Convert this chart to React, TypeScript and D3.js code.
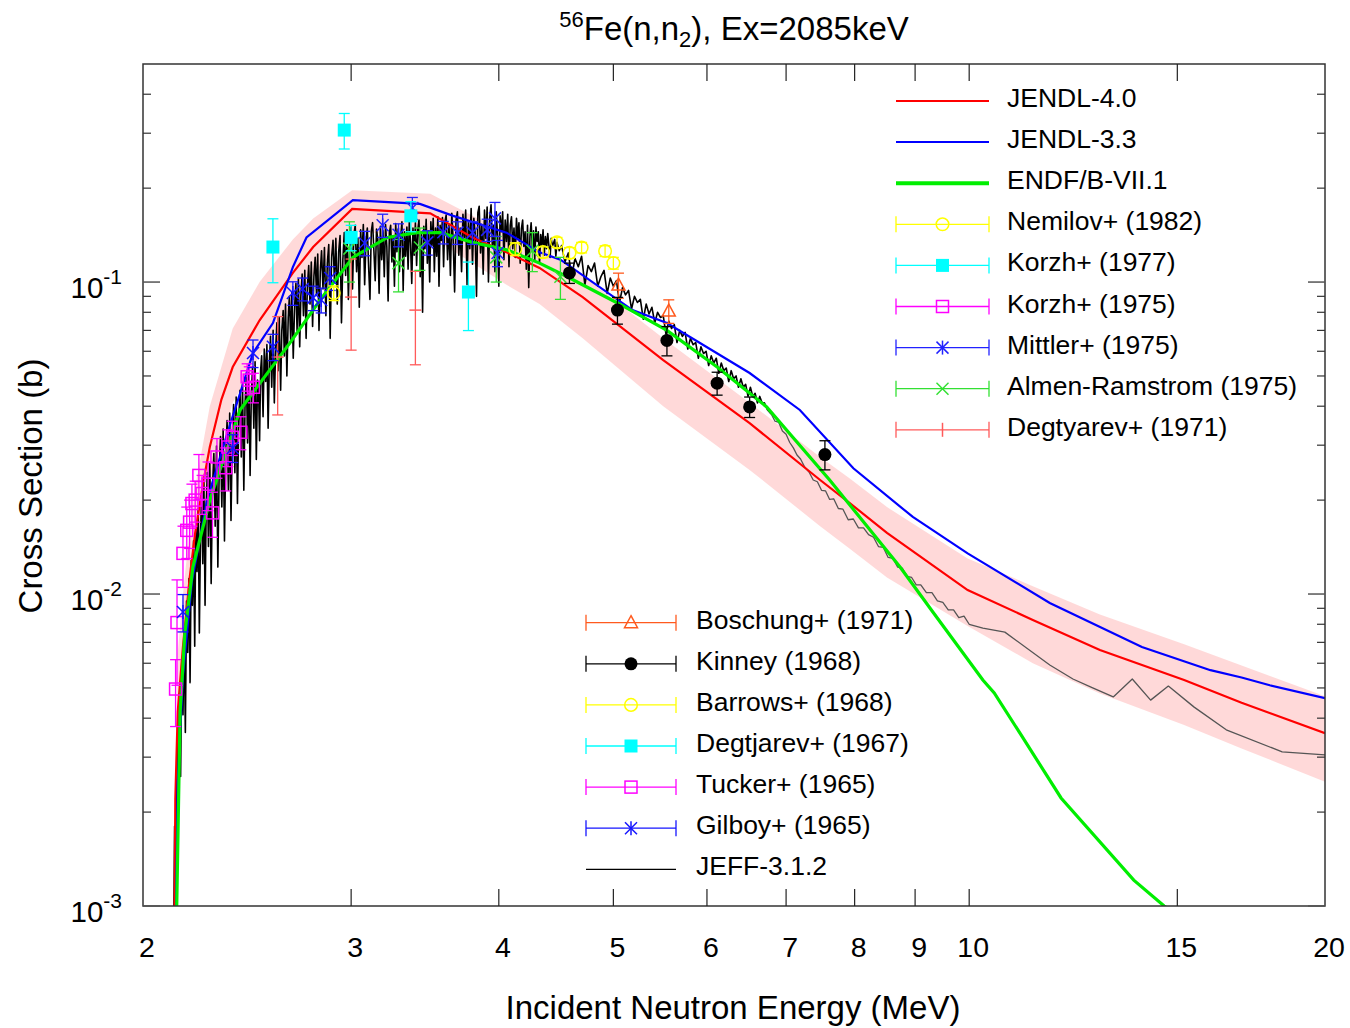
import React from "react";
import * as d3 from "d3";

// ================= DATA =================
const xTickVals = [3, 4, 5, 6, 7, 8, 9, 10, 15];
const xTickLabels = [2, 3, 4, 5, 6, 7, 8, 9, 10, 15, 20];
const yDecades = [-3, -2, -1];

// JENDL-4.0
const jendl40: [number, number][] = [
  [2.123, 0.0003], [2.13, 0.0022], [2.14, 0.0042], [2.162, 0.0068], [2.19, 0.0112], [2.214, 0.0157],
  [2.25, 0.023], [2.278, 0.0296], [2.33, 0.042], [2.382, 0.0534], [2.51, 0.0754], [2.678, 0.107],
  [2.786, 0.1295], [3.006, 0.1715], [3.5, 0.166], [3.8, 0.139], [4.06, 0.1247], [4.33, 0.111],
  [4.71, 0.0895], [5.51, 0.0562], [6.52, 0.0353], [7.48, 0.0232], [7.92, 0.0196], [8.52, 0.0157],
  [9.97, 0.0103], [11.32, 0.00826], [12.9, 0.00662], [15.2, 0.0053], [17.0, 0.00448], [20, 0.00358],
];
// JENDL-4.0 uncertainty band [E, low, high]
const jendl40Band: [number, number, number][] = [
  [2.123, 0.0002, 0.0006], [2.14, 0.003, 0.0065], [2.162, 0.005, 0.01], [2.19, 0.0082, 0.016],
  [2.214, 0.0115, 0.022], [2.278, 0.0225, 0.04], [2.382, 0.041, 0.071], [2.51, 0.058, 0.1],
  [2.678, 0.085, 0.137], [2.786, 0.105, 0.16], [3.006, 0.145, 0.197], [3.5, 0.14, 0.192],
  [3.8, 0.115, 0.163], [4.06, 0.098, 0.145], [4.33, 0.085, 0.13], [4.71, 0.066, 0.105],
  [5.51, 0.04, 0.066], [6.52, 0.025, 0.041], [7.48, 0.0165, 0.0275], [7.92, 0.014, 0.0235],
  [8.52, 0.0113, 0.019], [9.97, 0.0079, 0.013], [11.32, 0.006, 0.0106], [12.9, 0.0048, 0.0086],
  [15.2, 0.0038, 0.0069], [17.0, 0.0032, 0.0059], [20, 0.0025, 0.0047],
];
// JENDL-3.3
const jendl33: [number, number][] = [
  [2.124, 0.0003], [2.14, 0.0025], [2.162, 0.0055], [2.2, 0.011], [2.266, 0.02], [2.37, 0.035],
  [2.478, 0.0592], [2.576, 0.0739], [2.678, 0.1117], [2.75, 0.139], [3.01, 0.183], [3.43, 0.178],
  [3.66, 0.163], [4.06, 0.144], [4.33, 0.1246], [4.51, 0.118], [5.19, 0.0813], [5.55, 0.0739],
  [6.52, 0.0511], [7.19, 0.0389], [7.98, 0.0253], [8.96, 0.01766], [9.97, 0.0135], [11.7, 0.00936],
  [14.0, 0.00676], [16.0, 0.0057], [17.0, 0.0054], [17.96, 0.0051], [20, 0.00464],
];
// ENDF/B-VII.1
const endfb71: [number, number][] = [
  [2.124, 0.0003], [2.15, 0.0042], [2.17, 0.0075], [2.204, 0.0122], [2.278, 0.02], [2.416, 0.0389],
  [2.662, 0.0637], [2.824, 0.0876], [3.01, 0.12], [3.22, 0.139], [3.41, 0.144], [3.57, 0.144],
  [3.8, 0.134], [4.06, 0.127], [4.33, 0.115], [4.57, 0.104], [5.04, 0.0857], [5.55, 0.07],
  [6.12, 0.0534], [6.74, 0.0398], [7.62, 0.0232], [8.74, 0.0122], [9.33, 0.00869], [10.27, 0.0053],
  [10.5, 0.00482], [11.04, 0.00358], [11.96, 0.00222], [13.78, 0.00121], [14.62, 0.001], [15.2, 0.0009],
];
// JEFF-3.1.2 (fluctuating)
const jeff312: [number, number][] = [
  [2.122, 0.0006], [2.127, 0.0018], [2.132, 0.0011], [2.137, 0.0034], [2.142, 0.0022], [2.147, 0.0048],
  [2.152, 0.0026], [2.157, 0.0062], [2.162, 0.0041], [2.167, 0.0078], [2.172, 0.0036], [2.177, 0.0095],
  [2.182, 0.0065], [2.187, 0.0112], [2.192, 0.0052], [2.197, 0.0128], [2.202, 0.0092], [2.207, 0.0148],
  [2.212, 0.0068], [2.217, 0.017], [2.222, 0.0118], [2.227, 0.0188], [2.232, 0.0075], [2.237, 0.0155],
  [2.242, 0.021], [2.247, 0.0125], [2.252, 0.0228], [2.257, 0.0092], [2.262, 0.019], [2.267, 0.0245],
  [2.272, 0.0142], [2.278, 0.0262], [2.284, 0.0108], [2.29, 0.022], [2.296, 0.0282], [2.302, 0.0165],
  [2.308, 0.0298], [2.314, 0.0122], [2.32, 0.025], [2.326, 0.032], [2.332, 0.019], [2.338, 0.0338],
  [2.344, 0.0148], [2.35, 0.0285], [2.356, 0.036], [2.362, 0.0215], [2.368, 0.038], [2.374, 0.0172],
  [2.38, 0.032], [2.386, 0.0405], [2.392, 0.0245], [2.398, 0.0428], [2.404, 0.0195], [2.41, 0.036],
  [2.416, 0.045], [2.422, 0.0275], [2.428, 0.0472], [2.434, 0.0215], [2.44, 0.041], [2.446, 0.0495],
  [2.452, 0.0305], [2.458, 0.0512], [2.464, 0.024], [2.47, 0.044], [2.476, 0.0535], [2.482, 0.034],
  [2.488, 0.0555], [2.494, 0.027], [2.5, 0.0485],
  [2.505, 0.045], [2.51, 0.031], [2.515, 0.052], [2.52, 0.058], [2.527, 0.037], [2.533, 0.061],
  [2.54, 0.048], [2.546, 0.063], [2.552, 0.034], [2.558, 0.055], [2.564, 0.067], [2.57, 0.046],
  [2.577, 0.07], [2.583, 0.041], [2.59, 0.062], [2.596, 0.074], [2.602, 0.052], [2.608, 0.077],
  [2.615, 0.045], [2.621, 0.07], [2.628, 0.081], [2.634, 0.058], [2.64, 0.085], [2.647, 0.05],
  [2.654, 0.077], [2.66, 0.09], [2.667, 0.064], [2.673, 0.093], [2.68, 0.057], [2.687, 0.083],
  [2.694, 0.099], [2.7, 0.07], [2.707, 0.102], [2.714, 0.062], [2.72, 0.09], [2.727, 0.106],
  [2.734, 0.078], [2.741, 0.109], [2.748, 0.066], [2.755, 0.097], [2.762, 0.113], [2.769, 0.085],
  [2.776, 0.116], [2.783, 0.072], [2.79, 0.104], [2.797, 0.12], [2.804, 0.092], [2.811, 0.123],
  [2.818, 0.07], [2.825, 0.108], [2.832, 0.126], [2.84, 0.095], [2.848, 0.129], [2.856, 0.078],
  [2.864, 0.115], [2.872, 0.132], [2.88, 0.066], [2.888, 0.12], [2.896, 0.136], [2.904, 0.1],
  [2.912, 0.138], [2.92, 0.085], [2.928, 0.125], [2.936, 0.141], [2.944, 0.074], [2.952, 0.118],
  [2.96, 0.144], [2.968, 0.105], [2.976, 0.147], [2.984, 0.088], [2.992, 0.13], [3.0, 0.15],
  [3.008, 0.095], [3.016, 0.142], [3.024, 0.152], [3.032, 0.108], [3.04, 0.138], [3.048, 0.083],
  [3.056, 0.147], [3.064, 0.12], [3.072, 0.153], [3.08, 0.098], [3.088, 0.135], [3.096, 0.149],
  [3.104, 0.112], [3.112, 0.088], [3.12, 0.145], [3.128, 0.155], [3.136, 0.126], [3.144, 0.101],
  [3.152, 0.148], [3.16, 0.137], [3.168, 0.092], [3.176, 0.151], [3.184, 0.118], [3.192, 0.146],
  [3.2, 0.104], [3.208, 0.153], [3.216, 0.13], [3.224, 0.087], [3.232, 0.144], [3.24, 0.152],
  [3.248, 0.116], [3.256, 0.141], [3.264, 0.097], [3.272, 0.154], [3.28, 0.125], [3.288, 0.148],
  [3.296, 0.108], [3.304, 0.139], [3.312, 0.156], [3.32, 0.094], [3.328, 0.145], [3.336, 0.121],
  [3.344, 0.15], [3.352, 0.11], [3.36, 0.157], [3.368, 0.133], [3.376, 0.099], [3.384, 0.149],
  [3.392, 0.122], [3.4, 0.155], [3.408, 0.113], [3.416, 0.147], [3.424, 0.158], [3.432, 0.104],
  [3.44, 0.142], [3.448, 0.08], [3.456, 0.151], [3.464, 0.128], [3.472, 0.159], [3.48, 0.115],
  [3.488, 0.146], [3.496, 0.1], [3.504, 0.156], [3.512, 0.131], [3.52, 0.16], [3.528, 0.108],
  [3.536, 0.149], [3.544, 0.121], [3.552, 0.162], [3.56, 0.097], [3.568, 0.152], [3.576, 0.136],
  [3.584, 0.161], [3.592, 0.112], [3.6, 0.155],
  [3.61, 0.164], [3.62, 0.118], [3.63, 0.152], [3.64, 0.105], [3.65, 0.166], [3.66, 0.135],
  [3.67, 0.093], [3.68, 0.158], [3.69, 0.168], [3.7, 0.122], [3.71, 0.149], [3.72, 0.108],
  [3.73, 0.165], [3.74, 0.139], [3.75, 0.17], [3.76, 0.098], [3.77, 0.155], [3.78, 0.128],
  [3.79, 0.172], [3.8, 0.114], [3.81, 0.16], [3.82, 0.143], [3.83, 0.09], [3.84, 0.167],
  [3.85, 0.175], [3.86, 0.124], [3.87, 0.153], [3.88, 0.106], [3.89, 0.17], [3.9, 0.138],
  [3.91, 0.174], [3.92, 0.1], [3.93, 0.161], [3.94, 0.177], [3.95, 0.13], [3.96, 0.152],
  [3.97, 0.108], [3.98, 0.168], [3.99, 0.142], [4.0, 0.097], [4.01, 0.163], [4.02, 0.145],
  [4.03, 0.168], [4.04, 0.118], [4.05, 0.158], [4.06, 0.135], [4.07, 0.165], [4.08, 0.112],
  [4.09, 0.152], [4.1, 0.162], [4.11, 0.128], [4.12, 0.149], [4.13, 0.12], [4.14, 0.16],
  [4.15, 0.138], [4.16, 0.155], [4.17, 0.115], [4.18, 0.148], [4.19, 0.158], [4.2, 0.13],
  [4.21, 0.145], [4.22, 0.11], [4.23, 0.152], [4.24, 0.096], [4.25, 0.14], [4.26, 0.155],
  [4.27, 0.128], [4.28, 0.146], [4.29, 0.118], [4.3, 0.15], [4.31, 0.135], [4.32, 0.145],
  [4.33, 0.115], [4.34, 0.142], [4.35, 0.13], [4.36, 0.147], [4.37, 0.122], [4.38, 0.14],
  [4.39, 0.128], [4.4, 0.143], [4.42, 0.12], [4.43, 0.138], [4.44, 0.13], [4.46, 0.137],
  [4.47, 0.121], [4.48, 0.134], [4.5, 0.126],
  [4.52, 0.131], [4.55, 0.116], [4.58, 0.124], [4.61, 0.104], [4.64, 0.119], [4.67, 0.112],
  [4.7, 0.121], [4.73, 0.098], [4.76, 0.113], [4.79, 0.108], [4.82, 0.115], [4.85, 0.097],
  [4.88, 0.104], [4.91, 0.109], [4.94, 0.092], [4.97, 0.103], [5.0, 0.097], [5.03, 0.101],
  [5.06, 0.086], [5.09, 0.096], [5.12, 0.091], [5.15, 0.094], [5.18, 0.082], [5.21, 0.09],
  [5.24, 0.086], [5.27, 0.088], [5.3, 0.076], [5.33, 0.085], [5.36, 0.079], [5.39, 0.083],
  [5.42, 0.074], [5.45, 0.08], [5.48, 0.077], [5.51, 0.078], [5.54, 0.068], [5.57, 0.075],
  [5.6, 0.071], [5.63, 0.073], [5.66, 0.064], [5.69, 0.07], [5.72, 0.067], [5.75, 0.069],
  [5.78, 0.061], [5.81, 0.066], [5.84, 0.063], [5.87, 0.064], [5.9, 0.057], [5.93, 0.062],
  [5.96, 0.059], [5.99, 0.06], [6.02, 0.054], [6.05, 0.058], [6.08, 0.055], [6.11, 0.057],
  [6.14, 0.051], [6.17, 0.055], [6.2, 0.052], [6.23, 0.053], [6.26, 0.048], [6.29, 0.052],
  [6.32, 0.049], [6.35, 0.05], [6.38, 0.046], [6.41, 0.049], [6.44, 0.046], [6.47, 0.047],
  [6.5, 0.043], [6.53, 0.046], [6.56, 0.043], [6.59, 0.044], [6.62, 0.041], [6.65, 0.043],
  [6.68, 0.041], [6.71, 0.041], [6.75, 0.039],
  [6.8, 0.0378], [6.85, 0.0358], [6.9, 0.0355], [6.95, 0.0333], [7.0, 0.0325], [7.05, 0.0306],
  [7.1, 0.0294], [7.15, 0.0279], [7.2, 0.0271], [7.26, 0.0255], [7.32, 0.0246], [7.38, 0.0232],
  [7.44, 0.0229], [7.5, 0.0215], [7.56, 0.0214], [7.62, 0.0201], [7.68, 0.0202], [7.75, 0.0188],
  [7.82, 0.0187], [7.9, 0.0173], [7.98, 0.0174], [8.06, 0.0163], [8.14, 0.0163], [8.22, 0.0155],
  [8.3, 0.0152], [8.38, 0.0142], [8.46, 0.0141], [8.54, 0.0131], [8.62, 0.013], [8.7, 0.0122],
  [8.78, 0.0121], [8.86, 0.0114], [8.94, 0.0113], [9.02, 0.0107], [9.1, 0.0107], [9.2, 0.0101],
  [9.3, 0.0101], [9.4, 0.0095], [9.5, 0.0094], [9.6, 0.0089], [9.7, 0.0089], [9.8, 0.0084],
  [9.9, 0.0085], [10.0, 0.008],
  [10.27, 0.00778], [10.72, 0.00755], [11.7, 0.00592], [12.24, 0.00534], [12.72, 0.005],
  [13.24, 0.00468], [13.74, 0.00534], [14.24, 0.00457], [14.74, 0.00507], [15.5, 0.00434],
  [16.5, 0.00367], [18.4, 0.00312], [20, 0.00305],
];

// Experimental data [E (MeV), sigma (b), d-sigma (b)]
const nemilov1982 = [[2.9, 0.0922, 0.005], [4.13, 0.1276, 0.006]];
const korzh1977 = [[3.0, 0.139, 0.013], [3.37, 0.163, 0.018]];
const korzh1975 = [[2.244, 0.021, 0.003], [2.29, 0.0182, 0.003], [2.31, 0.0275, 0.004], [2.35, 0.0254, 0.004],
  [2.36, 0.0296, 0.004], [2.38, 0.0318, 0.004], [2.42, 0.033, 0.004], [2.45, 0.0497, 0.005],
  [2.46, 0.0485, 0.005], [2.48, 0.046, 0.005]];
const mittler1975 = [[3.08, 0.1334, 0.012], [3.19, 0.152, 0.013], [3.29, 0.1417, 0.012], [3.38, 0.1727, 0.014],
  [3.48, 0.134, 0.012], [3.59, 0.1445, 0.012], [3.69, 0.144, 0.012], [3.8, 0.144, 0.012],
  [3.91, 0.147, 0.012], [3.97, 0.16, 0.02], [3.99, 0.124, 0.012]];
const almen1975 = [[2.99, 0.128, 0.028], [3.29, 0.115, 0.022], [3.43, 0.129, 0.02], [3.98, 0.12, 0.02],
  [4.27, 0.126, 0.018], [4.51, 0.104, 0.016]];
const degtyarev1971 = [[2.6, 0.0575, 0.02], [3.0, 0.0895, 0.029], [3.4, 0.0813, 0.027]];
const boschung1971 = [[5.05, 0.0978, 0.009], [5.57, 0.0807, 0.007]];
const kinney1968 = [[4.59, 0.107, 0.008], [5.04, 0.0813, 0.008], [5.55, 0.065, 0.007], [6.12, 0.0474, 0.004],
  [6.52, 0.0398, 0.003], [7.55, 0.028, 0.003]];
const barrows1968 = [[4.36, 0.1247, 0.005], [4.48, 0.134, 0.005], [4.59, 0.124, 0.005], [4.7, 0.129, 0.005],
  [4.92, 0.1257, 0.005], [5.0, 0.115, 0.005]];
const degtjarev1967 = [[2.576, 0.1295, 0.03], [2.96, 0.307, 0.04], [3.77, 0.0929, 0.023]];
const tucker1965 = [[2.131, 0.00496, 0.0012], [2.137, 0.0081, 0.003], [2.162, 0.0135, 0.003], [2.178, 0.016, 0.003],
  [2.19, 0.017, 0.003], [2.2, 0.0195, 0.003], [2.214, 0.02, 0.003], [2.23, 0.024, 0.004], [2.27, 0.0225, 0.004]];
const gilboy1965 = [[2.162, 0.00876, 0.0012], [2.382, 0.0294, 0.003], [2.478, 0.0592, 0.006], [2.576, 0.062, 0.006],
  [2.678, 0.0922, 0.008], [2.73, 0.095, 0.008], [2.786, 0.089, 0.008], [2.83, 0.0876, 0.008], [2.88, 0.103, 0.009]];

const legend1Names = ["JENDL-4.0", "JENDL-3.3", "ENDF/B-VII.1", "Nemilov+ (1982)", "Korzh+ (1977)",
  "Korzh+ (1975)", "Mittler+ (1975)", "Almen-Ramstrom (1975)", "Degtyarev+ (1971)"];
const legend2Names = ["Boschung+ (1971)", "Kinney (1968)", "Barrows+ (1968)", "Degtjarev+ (1967)",
  "Tucker+ (1965)", "Gilboy+ (1965)", "JEFF-3.1.2"];

// ================= STYLE =================
const FONT = '"Liberation Sans", Arial, Helvetica, sans-serif';
const L = 143, R = 1325, T = 64, B = 906;

type MType = "circleOpen" | "circleFilled" | "squareFilled" | "squareOpen" | "asterisk" | "cross" | "triangle" | "htick" | "vtick";

function Marker({ t, x, y, c }: { t: MType; x: number; y: number; c: string }) {
  const sw = 1.5;
  switch (t) {
    case "circleOpen":
      return <circle cx={x} cy={y} r={6.3} fill="none" stroke={c} strokeWidth={sw} />;
    case "circleFilled":
      return <circle cx={x} cy={y} r={6.5} fill={c} />;
    case "squareFilled":
      return <rect x={x - 6.5} y={y - 6.5} width={13} height={13} fill={c} />;
    case "squareOpen":
      return <rect x={x - 6} y={y - 6} width={12} height={12} fill="none" stroke={c} strokeWidth={sw} />;
    case "asterisk":
      return (
        <g stroke={c} strokeWidth={sw}>
          <line x1={x} y1={y - 7} x2={x} y2={y + 7} />
          <line x1={x - 6} y1={y - 6} x2={x + 6} y2={y + 6} />
          <line x1={x - 6} y1={y + 6} x2={x + 6} y2={y - 6} />
        </g>
      );
    case "cross":
      return (
        <g stroke={c} strokeWidth={sw}>
          <line x1={x - 6} y1={y - 6} x2={x + 6} y2={y + 6} />
          <line x1={x - 6} y1={y + 6} x2={x + 6} y2={y - 6} />
        </g>
      );
    case "triangle":
      return <path d={`M${x},${y - 7}L${x + 6.5},${y + 5}L${x - 6.5},${y + 5}Z`} fill="none" stroke={c} strokeWidth={sw} />;
    case "htick":
      return <line x1={x - 6} y1={y} x2={x + 6} y2={y} stroke={c} strokeWidth={sw} />;
    case "vtick":
      return <line x1={x} y1={y - 7} x2={x} y2={y + 7} stroke={c} strokeWidth={sw} />;
  }
  return null;
}

export default function App() {
  const x = d3.scaleLog().domain([2, 20]).range([L, R]);
  const y = d3.scaleLog().domain([1e-3, 0.5]).range([B, T]);
  const line = d3.line<[number, number]>().x((d) => x(d[0])).y((d) => y(d[1]));
  const area = d3.area<[number, number, number]>().x((d) => x(d[0])).y0((d) => y(d[1])).y1((d) => y(d[2]));
  const yc = (v: number) => y(Math.max(v, 1e-5));

  const dataSets: { data: number[][]; c: string; m: MType }[] = [
    { data: degtyarev1971, c: "#ff5a5a", m: "htick" },
    { data: almen1975, c: "#33e033", m: "cross" },
    { data: tucker1965, c: "#ff00ff", m: "squareOpen" },
    { data: korzh1975, c: "#ff00ff", m: "squareOpen" },
    { data: gilboy1965, c: "#1515ff", m: "asterisk" },
    { data: mittler1975, c: "#2222ff", m: "asterisk" },
    { data: nemilov1982, c: "#ffff00", m: "circleOpen" },
    { data: barrows1968, c: "#ffff00", m: "circleOpen" },
    { data: degtjarev1967, c: "#00ffff", m: "squareFilled" },
    { data: korzh1977, c: "#00ffff", m: "squareFilled" },
    { data: boschung1971, c: "#ff5a1e", m: "triangle" },
    { data: kinney1968, c: "#000000", m: "circleFilled" },
  ];

  const legend1: { kind: "line" | "err"; c: string; w?: number; m?: MType }[] = [
    { kind: "line", c: "#ff0000", w: 2 },
    { kind: "line", c: "#0000ff", w: 2 },
    { kind: "line", c: "#00ee00", w: 4 },
    { kind: "err", c: "#ffff00", m: "circleOpen" },
    { kind: "err", c: "#00ffff", m: "squareFilled" },
    { kind: "err", c: "#ff00ff", m: "squareOpen" },
    { kind: "err", c: "#2222ff", m: "asterisk" },
    { kind: "err", c: "#33e033", m: "cross" },
    { kind: "err", c: "#ff5a5a", m: "vtick" },
  ];
  const legend2: { kind: "line" | "err"; c: string; w?: number; m?: MType }[] = [
    { kind: "err", c: "#ff5a1e", m: "triangle" },
    { kind: "err", c: "#000000", m: "circleFilled" },
    { kind: "err", c: "#ffff00", m: "circleOpen" },
    { kind: "err", c: "#00ffff", m: "squareFilled" },
    { kind: "err", c: "#ff00ff", m: "squareOpen" },
    { kind: "err", c: "#1515ff", m: "asterisk" },
    { kind: "line", c: "#000000", w: 1.2 },
  ];

  const renderLegend = (items: typeof legend1, names: string[], x0: number, x1: number, tx: number, y0: number) =>
    items.map((it, i) => {
      const yy = y0 + i * 41.1;
      const xm = (x0 + x1) / 2;
      return (
        <g key={i}>
          {it.kind === "line" ? (
            <line x1={x0} x2={x1} y1={yy} y2={yy} stroke={it.c} strokeWidth={it.w} />
          ) : (
            <g>
              <line x1={x0} x2={x1} y1={yy} y2={yy} stroke={it.c} strokeWidth={1.3} />
              <line x1={x0} x2={x0} y1={yy - 8} y2={yy + 8} stroke={it.c} strokeWidth={1.3} />
              <line x1={x1} x2={x1} y1={yy - 8} y2={yy + 8} stroke={it.c} strokeWidth={1.3} />
              <Marker t={it.m!} x={xm} y={yy} c={it.c} />
            </g>
          )}
          <text x={tx} y={yy + 6} fontSize={26.5} fontFamily={FONT} fill="#000">{names[i]}</text>
        </g>
      );
    });

  const yMinor: number[] = [];
  yDecades.forEach((d) => {
    for (let k = 2; k <= 9; k++) {
      const v = k * Math.pow(10, d);
      if (v < 0.5) yMinor.push(v);
    }
  });

  const jeffDense = jeff312.filter((d) => d[0] <= 6.8);
  const jeffTail = jeff312.filter((d) => d[0] >= 6.75);

  return (
    <div style={{ position: "absolute", left: 0, top: 0 }}>
      <svg width={1350} height={1028} style={{ display: "block", background: "#fff" }}>
        <defs>
          <clipPath id="plot">
            <rect x={L} y={T} width={R - L} height={B - T} />
          </clipPath>
        </defs>
        <g clipPath="url(#plot)">
          <path d={area(jendl40Band) || ""} fill="#ffcfcf" opacity={0.8} />
          <path d={line(jeffDense) || ""} fill="none" stroke="#000" strokeWidth={1.6} strokeLinejoin="round" />
          <path d={line(jeffTail) || ""} fill="none" stroke="#555" strokeWidth={1.3} strokeLinejoin="round" />
          <path d={line(jendl40) || ""} fill="none" stroke="#ff0000" strokeWidth={2.2} />
          <path d={line(jendl33) || ""} fill="none" stroke="#0000ff" strokeWidth={2.2} />
          <path d={line(endfb71) || ""} fill="none" stroke="#00ee00" strokeWidth={3.2} />
          {dataSets.map((ds, i) => (
            <g key={i}>
              {ds.data.map((p, j) => {
                const px = x(p[0]);
                const yl = yc(p[1] - p[2]);
                const yh = yc(p[1] + p[2]);
                return (
                  <g key={j}>
                    <line x1={px} x2={px} y1={yl} y2={yh} stroke={ds.c} strokeWidth={1.3} />
                    <line x1={px - 5.5} x2={px + 5.5} y1={yl} y2={yl} stroke={ds.c} strokeWidth={1.3} />
                    <line x1={px - 5.5} x2={px + 5.5} y1={yh} y2={yh} stroke={ds.c} strokeWidth={1.3} />
                    <Marker t={ds.m} x={px} y={y(p[1])} c={ds.c} />
                  </g>
                );
              })}
            </g>
          ))}
        </g>

        {/* frame */}
        <rect x={L} y={T} width={R - L} height={B - T} fill="none" stroke="#333" strokeWidth={1.5} />

        {/* x ticks */}
        {xTickVals.map((v) => (
          <g key={"xt" + v} stroke="#222" strokeWidth={1.2}>
            <line x1={x(v)} x2={x(v)} y1={B} y2={B - 17} />
            <line x1={x(v)} x2={x(v)} y1={T} y2={T + 17} />
          </g>
        ))}
        {xTickLabels.map((v) => (
          <text key={"xl" + v} x={x(v) + 4} y={957} fontSize={28.5} fontFamily={FONT} textAnchor="middle" fill="#000">
            {v}
          </text>
        ))}

        {/* y ticks */}
        {yDecades.map((d) => {
          const v = Math.pow(10, d);
          return (
            <g key={"yd" + d}>
              <line x1={L} x2={L + 17} y1={y(v)} y2={y(v)} stroke="#555" strokeWidth={1.5} />
              <line x1={R} x2={R - 17} y1={y(v)} y2={y(v)} stroke="#555" strokeWidth={1.5} />
              <text x={122} y={y(v) + 16} fontSize={29.5} fontFamily={FONT} textAnchor="end" fill="#000">
                10<tspan fontSize={21} dy={-14}>{d}</tspan>
              </text>
            </g>
          );
        })}
        {yMinor.map((v, i) => (
          <g key={"ym" + i} stroke="#333" strokeWidth={1.2}>
            <line x1={L} x2={L + 8} y1={y(v)} y2={y(v)} />
            <line x1={R} x2={R - 8} y1={y(v)} y2={y(v)} />
          </g>
        ))}

        {/* axis titles */}
        <text x={733} y={1019} fontSize={33} fontFamily={FONT} textAnchor="middle" fill="#000">
          Incident Neutron Energy (MeV)
        </text>
        <text transform="translate(42,486) rotate(-90)" fontSize={33} fontFamily={FONT} textAnchor="middle" fill="#000">
          Cross Section (b)
        </text>
        <text x={734} y={40} fontSize={33} fontFamily={FONT} textAnchor="middle" fill="#000">
          <tspan fontSize={22} dy={-13}>56</tspan>
          <tspan dy={13}>Fe(n,n</tspan>
          <tspan fontSize={22} dy={7}>2</tspan>
          <tspan dy={-7}>), Ex=2085keV</tspan>
        </text>

        {/* legends */}
        {renderLegend(legend1, legend1Names, 896, 989, 1007, 101)}
        {renderLegend(legend2, legend2Names, 586, 676, 696, 622.7)}
      </svg>
    </div>
  );
}
